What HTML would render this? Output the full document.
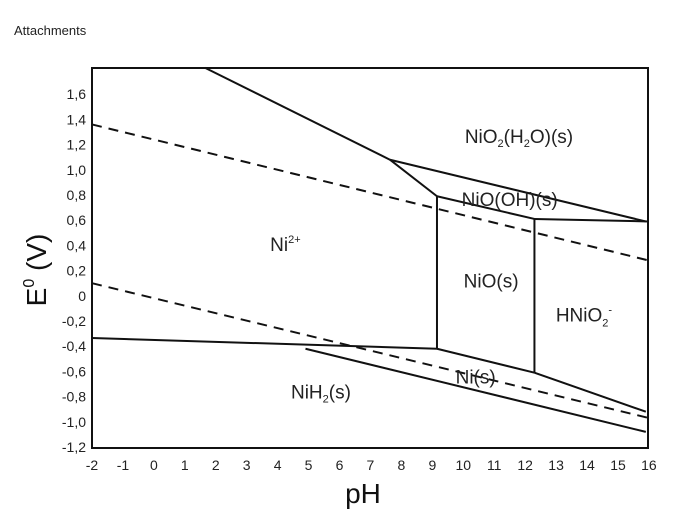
<!DOCTYPE html>
<html><head><meta charset="utf-8"><style>
body{margin:0;background:#fff;}
svg{display:block;font-family:"Liberation Sans",Arial,sans-serif;}
</style></head><body>
<svg id="c" width="700" height="521">
<text x="14" y="35" font-size="13" fill="#222">Attachments</text>
</svg>
<script>
const xTicks=[-2,-1,0,1,2,3,4,5,6,7,8,9,10,11,12,13,14,15,16];
const yTicks=[1.6,1.4,1.2,1.0,0.8,0.6,0.4,0.2,0,-0.2,-0.4,-0.6,-0.8,-1.0,-1.2];
// solid boundaries: [pH1,E1,pH2,E2]
const solidLines=[[1.65,1.81,7.63,1.08],[7.63,1.08,9.15,0.79],[7.63,1.08,15.9,0.59],[9.15,0.79,12.3,0.61],[12.3,0.61,16,0.59],[9.15,0.79,9.15,-0.42],[12.3,0.61,12.3,-0.61],[-2,-0.335,9.15,-0.42],[9.15,-0.42,12.3,-0.61],[12.3,-0.61,15.9,-0.92],[4.9,-0.42,15.9,-1.08]];
const dashedLines=[[-2,1.36,16,0.28],[-2,0.10,16,-0.97]];
const regionLabels=[["NiO2(H2O)(s)",11.8,1.27],["NiO(OH)(s)",11.5,0.77],["Ni2+",4.25,0.41],["NiO(s)",10.9,0.12],["HNiO2-",13.9,-0.15],["Ni(s)",10.4,-0.64],["NiH2(s)",5.4,-0.76]];
const X=v=>92+(v+2)*30.94, Y=v=>447-(v+1.2)*126;
const svg=document.getElementById('c'),NS='http://www.w3.org/2000/svg';
function mk(t,a){const e=document.createElementNS(NS,t);for(const k in a)e.setAttribute(k,a[k]);svg.appendChild(e);return e;}
const box=mk('rect',{x:92,y:68,width:556,height:380,fill:'none',stroke:'#111','stroke-width':2});


const fmt=v=>v===0?'0':v.toFixed(1).replace('.',',');
yTicks.forEach(v=>{const t=mk('text',{x:86,y:Y(v)+5,'font-size':14,'text-anchor':'end',fill:'#222'});t.textContent=fmt(v);

});
xTicks.forEach(v=>{const t=mk('text',{x:X(v),y:470,'font-size':14,'text-anchor':'middle',fill:'#222'});t.textContent=v;

});
solidLines.forEach(l=>{const e=mk('line',{x1:X(l[0]),y1:Y(l[1]),x2:X(l[2]),y2:Y(l[3]),stroke:'#111','stroke-width':2});

});
dashedLines.forEach(l=>{const e=mk('line',{x1:X(l[0]),y1:Y(l[1]),x2:X(l[2]),y2:Y(l[3]),stroke:'#111','stroke-width':2,'stroke-dasharray':'10,7'});

});
const html={"NiO2(H2O)(s)":'NiO<tspan font-size="11" dy="4">2</tspan><tspan dy="-4">(H</tspan><tspan font-size="11" dy="4">2</tspan><tspan dy="-4">O)(s)</tspan>',
"Ni2+":'Ni<tspan font-size="11" dy="-8">2+</tspan>',"HNiO2-":'HNiO<tspan font-size="11" dy="5">2</tspan><tspan font-size="11" dy="-13">-</tspan>',
"NiH2(s)":'NiH<tspan font-size="11" dy="4">2</tspan><tspan dy="-4">(s)</tspan>'};
regionLabels.forEach(r=>{const t=mk('text',{x:X(r[1]),y:Y(r[2])+7,'font-size':19,'text-anchor':'middle',fill:'#222'});t.innerHTML=html[r[0]]||r[0];

});
const xt=mk('text',{x:363,y:503,'font-size':28,'text-anchor':'middle',fill:'#111'});xt.textContent='pH';


const yt=mk('text',{x:0,y:0,'font-size':28,'text-anchor':'middle',fill:'#111',transform:'translate(46,270) rotate(-90)'});yt.innerHTML='E<tspan font-size="16" dy="-12">0</tspan><tspan dy="12"> (V)</tspan>';


</script>
</body></html>
